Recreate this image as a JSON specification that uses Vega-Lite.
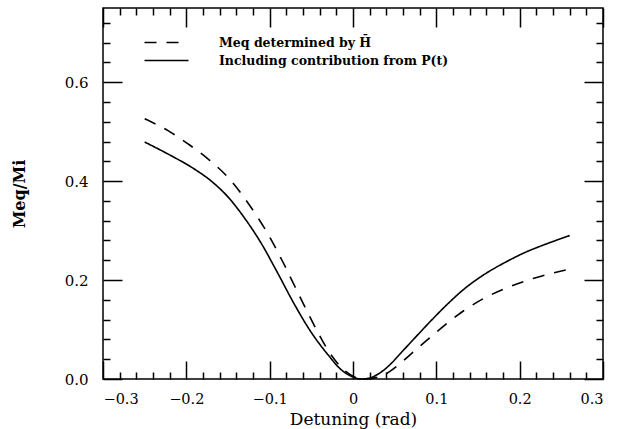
{
  "$schema": "https://vega.github.io/schema/vega-lite/v6.json",
  "width": 500,
  "height": 371,
  "autosize": "none",
  "padding": {"left": 103, "top": 8, "right": 17, "bottom": 50},
  "background": "white",
  "config": {
    "view": {"stroke": "black", "strokeWidth": 1.5},
    "axis": {
      "domain": false,
      "grid": false,
      "tickColor": "black",
      "tickWidth": 1.5,
      "labelFont": "DejaVu Serif",
      "labelFontSize": 15,
      "labelColor": "black",
      "titleFont": "DejaVu Serif",
      "titleColor": "black"
    }
  },
  "data": {
    "values": [
      {"series": "dashed", "x": -0.25, "y": 0.526},
      {"series": "dashed", "x": -0.222, "y": 0.502},
      {"series": "dashed", "x": -0.196, "y": 0.473},
      {"series": "dashed", "x": -0.172, "y": 0.442},
      {"series": "dashed", "x": -0.148, "y": 0.404},
      {"series": "dashed", "x": -0.132, "y": 0.37},
      {"series": "dashed", "x": -0.116, "y": 0.331},
      {"series": "dashed", "x": -0.1, "y": 0.287},
      {"series": "dashed", "x": -0.084, "y": 0.236},
      {"series": "dashed", "x": -0.07, "y": 0.188},
      {"series": "dashed", "x": -0.056, "y": 0.14},
      {"series": "dashed", "x": -0.042, "y": 0.094},
      {"series": "dashed", "x": -0.028, "y": 0.053},
      {"series": "dashed", "x": -0.01, "y": 0.017},
      {"series": "dashed", "x": 0.002, "y": 0.004},
      {"series": "dashed", "x": 0.015, "y": 0.0},
      {"series": "dashed", "x": 0.028, "y": 0.003},
      {"series": "dashed", "x": 0.04, "y": 0.011},
      {"series": "dashed", "x": 0.052, "y": 0.025},
      {"series": "dashed", "x": 0.064, "y": 0.042},
      {"series": "dashed", "x": 0.076, "y": 0.06},
      {"series": "dashed", "x": 0.092, "y": 0.083},
      {"series": "dashed", "x": 0.108, "y": 0.106},
      {"series": "dashed", "x": 0.132, "y": 0.137},
      {"series": "dashed", "x": 0.156, "y": 0.162},
      {"series": "dashed", "x": 0.184, "y": 0.184},
      {"series": "dashed", "x": 0.216, "y": 0.203},
      {"series": "dashed", "x": 0.26, "y": 0.222},
      {"series": "solid", "x": -0.25, "y": 0.479},
      {"series": "solid", "x": -0.22, "y": 0.453},
      {"series": "solid", "x": -0.19, "y": 0.424},
      {"series": "solid", "x": -0.17, "y": 0.4},
      {"series": "solid", "x": -0.15, "y": 0.368},
      {"series": "solid", "x": -0.13, "y": 0.325},
      {"series": "solid", "x": -0.11, "y": 0.274},
      {"series": "solid", "x": -0.09, "y": 0.213},
      {"series": "solid", "x": -0.07, "y": 0.15},
      {"series": "solid", "x": -0.05, "y": 0.094},
      {"series": "solid", "x": -0.03, "y": 0.049},
      {"series": "solid", "x": -0.015, "y": 0.02},
      {"series": "solid", "x": 0.0, "y": 0.004},
      {"series": "solid", "x": 0.01, "y": 0.0},
      {"series": "solid", "x": 0.02, "y": 0.002},
      {"series": "solid", "x": 0.032, "y": 0.012},
      {"series": "solid", "x": 0.045, "y": 0.03},
      {"series": "solid", "x": 0.056, "y": 0.05},
      {"series": "solid", "x": 0.072, "y": 0.079},
      {"series": "solid", "x": 0.096, "y": 0.122},
      {"series": "solid", "x": 0.115, "y": 0.154},
      {"series": "solid", "x": 0.132, "y": 0.18},
      {"series": "solid", "x": 0.16, "y": 0.214},
      {"series": "solid", "x": 0.184, "y": 0.237},
      {"series": "solid", "x": 0.208, "y": 0.257},
      {"series": "solid", "x": 0.232, "y": 0.273},
      {"series": "solid", "x": 0.26, "y": 0.29}
    ]
  },
  "transform": [
    {"calculate": "datum.series === 'dashed' ? 'Meq determined by H\u0304' : 'Including contribution from P(t)'", "as": "label"}
  ],
  "layer": [
    {
      "mark": {"type": "line", "color": "black", "strokeWidth": 1.6, "interpolate": "monotone"},
      "encoding": {
        "x": {"field": "x", "type": "quantitative", "scale": {"domain": [-0.3, 0.3], "nice": false, "zero": false},
          "axis": {"orient": "bottom", "values": [-0.3, -0.2, -0.1, 0, 0.1, 0.2, 0.3], "format": "~g", "tickSize": -18, "labelPadding": 31, "labelFontSize": 14.5, "title": "Detuning (rad)", "titleFontSize": 17, "titleFontWeight": "normal", "titlePadding": 6}},
        "y": {"field": "y", "type": "quantitative", "scale": {"domain": [0, 0.75], "nice": false, "zero": false},
          "axis": {"orient": "left", "values": [0, 0.2, 0.4, 0.6], "format": ".1f", "tickSize": -19, "labelPadding": 34, "title": "Meq/Mi", "titleFontSize": 16, "titleFontWeight": "bold", "titlePadding": 37}},
        "strokeDash": {
          "field": "label", "type": "nominal",
          "scale": {"domain": ["Meq determined by H\u0304", "Including contribution from P(t)"], "range": [[12, 10], [1, 0]]},
          "legend": {
            "title": null, "orient": "none", "legendX": 57, "legendY": 28, "padding": 0,
            "symbolType": "M-4,0H4", "symbolSize": 121, "symbolStrokeWidth": 1.5, "symbolStrokeColor": "black",
            "labelOffset": 46, "rowPadding": 5,
            "labelFont": "DejaVu Serif", "labelFontWeight": "bold", "labelFontSize": 12.5, "labelColor": "black", "labelLimit": 400
          }
        }
      }
    },
    {
      "mark": {"type": "line", "strokeOpacity": 0},
      "encoding": {
        "x": {"field": "x", "type": "quantitative", "scale": {"domain": [-0.3, 0.3], "nice": false, "zero": false},
          "axis": {"orient": "bottom", "values": [-0.28, -0.26, -0.24, -0.22, -0.18, -0.16, -0.14, -0.12, -0.08, -0.06, -0.04, -0.02, 0.02, 0.04, 0.06, 0.08, 0.12, 0.14, 0.16, 0.18, 0.22, 0.24, 0.26, 0.28], "tickSize": -7, "labels": false, "title": null}},
        "y": {"field": "y", "type": "quantitative", "scale": {"domain": [0, 0.75], "nice": false, "zero": false},
          "axis": {"orient": "left", "values": [0.04, 0.08, 0.12, 0.16, 0.24, 0.28, 0.32, 0.36, 0.44, 0.48, 0.52, 0.56, 0.64, 0.68, 0.72], "tickSize": -7, "labels": false, "title": null}}
      }
    },
    {
      "mark": {"type": "line", "strokeOpacity": 0},
      "encoding": {
        "x": {"field": "x", "type": "quantitative", "scale": {"domain": [-0.3, 0.3], "nice": false, "zero": false},
          "axis": {"orient": "top", "values": [-0.3, -0.2, -0.1, 0, 0.1, 0.2, 0.3], "tickSize": -19, "labels": false, "title": null}},
        "y": {"field": "y", "type": "quantitative", "scale": {"domain": [0, 0.75], "nice": false, "zero": false},
          "axis": {"orient": "right", "values": [0, 0.2, 0.4, 0.6], "tickSize": -19, "labels": false, "title": null}}
      }
    },
    {
      "mark": {"type": "line", "strokeOpacity": 0},
      "encoding": {
        "x": {"field": "x", "type": "quantitative", "scale": {"domain": [-0.3, 0.3], "nice": false, "zero": false},
          "axis": {"orient": "top", "values": [-0.28, -0.26, -0.24, -0.22, -0.18, -0.16, -0.14, -0.12, -0.08, -0.06, -0.04, -0.02, 0.02, 0.04, 0.06, 0.08, 0.12, 0.14, 0.16, 0.18, 0.22, 0.24, 0.26, 0.28], "tickSize": -7, "labels": false, "title": null}},
        "y": {"field": "y", "type": "quantitative", "scale": {"domain": [0, 0.75], "nice": false, "zero": false},
          "axis": {"orient": "right", "values": [0.04, 0.08, 0.12, 0.16, 0.24, 0.28, 0.32, 0.36, 0.44, 0.48, 0.52, 0.56, 0.64, 0.68, 0.72], "tickSize": -7, "labels": false, "title": null}}
      }
    }
  ],
  "resolve": {"axis": {"x": "independent", "y": "independent"}}
}
